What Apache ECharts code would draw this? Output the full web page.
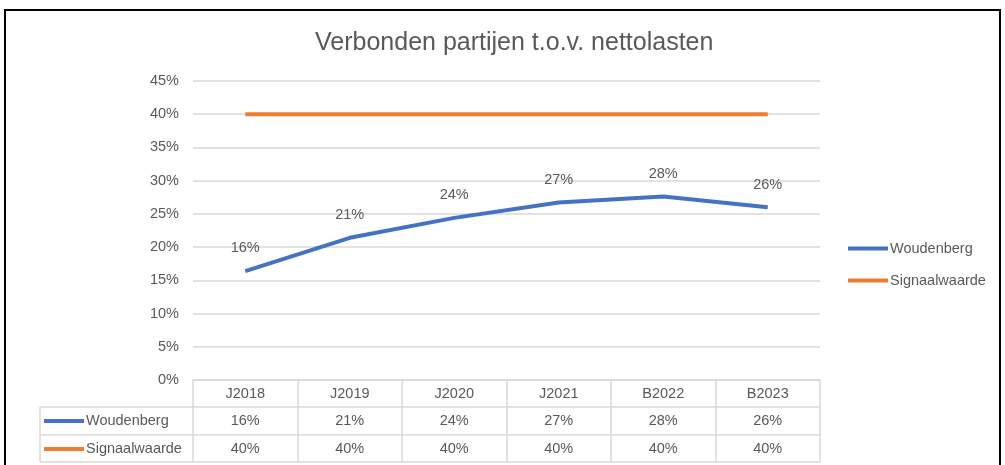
<!DOCTYPE html>
<html>
<head>
<meta charset="utf-8">
<script src="https://cdn.jsdelivr.net/npm/echarts@6/dist/echarts.min.js"></script>
<style>
  html, body { margin: 0; padding: 0; background: #fff; }
  #chart { width: 1005px; height: 465px; }
</style>
</head>
<body>
<div id="chart"></div>
<script>
// data
var categories = ['J2018', 'J2019', 'J2020', 'J2021', 'B2022', 'B2023'];
var woudenberg = [0.164, 0.214, 0.244, 0.267, 0.276, 0.260];
var signaalwaarde = [0.40, 0.40, 0.40, 0.40, 0.40, 0.40];
var woudenbergLabels = ['16%', '21%', '24%', '27%', '28%', '26%'];
var signaalLabels = ['40%', '40%', '40%', '40%', '40%', '40%'];
var seriesNames = ['Woudenberg', 'Signaalwaarde'];

var FONT = 'Liberation Sans';
var FS = 14.5;
var TXT = '#595959';
var GRID = '#d9d9d9';
var BLUE = '#4472c4';
var ORANGE = '#ed7d31';

function pct (v) {
  return Math.round(v * 100) + '%';
}

var chart = echarts.init(document.getElementById('chart'));

function tableAxis (labels, offset) {
  return {
    type: 'category',
    data: categories,
    position: 'bottom',
    offset: offset,
    boundaryGap: true,
    axisLine: { show: true, lineStyle: { color: GRID, width: 1.5 } },
    axisTick: { show: false },
    axisLabel: {
      interval: 0,
      margin: 6,
      color: TXT,
      fontFamily: FONT,
      fontSize: FS,
      formatter: function (v, i) { return labels[i] }
    }
  }
}

var option = {
  backgroundColor: '#fff',
  animation: false,
  title: {
    text: 'Verbonden partijen t.o.v. nettolasten',
    left: 310,
    top: 26,
    textStyle: { fontFamily: FONT, fontSize: 25, fontWeight: 'normal', color: TXT }
  },
  legend: {
    orient: 'vertical',
    left: 843,
    top: 236,
    icon: 'rect',
    itemWidth: 40,
    itemHeight: 4,
    itemGap: 17,
    data: seriesNames,
    textStyle: { fontFamily: FONT, fontSize: FS, color: TXT, padding: [0, 0, 0, -3] }
  },
  grid: { left: 193, right: 185, top: 81, bottom: 85 },
  xAxis: [
    {
      type: 'category',
      data: categories,
      boundaryGap: true,
      axisLine: { lineStyle: { color: GRID, width: 1.5 } },
      axisTick: { show: true, interval: 0, length: 82, lineStyle: { color: GRID, width: 1.5 } },
      axisLabel: { interval: 0, margin: 6, color: TXT, fontFamily: FONT, fontSize: FS }
    },
    tableAxis(woudenbergLabels, 27),
    tableAxis(signaalLabels, 55),
    {
      type: 'category',
      data: categories,
      position: 'bottom',
      offset: 82,
      axisLine: { show: true, lineStyle: { color: GRID, width: 1.5 } },
      axisTick: { show: false },
      axisLabel: { show: false }
    }
  ],
  yAxis: {
    type: 'value',
    min: 0,
    max: 0.45,
    interval: 0.05,
    axisLine: { show: false },
    axisTick: { show: false },
    splitLine: { lineStyle: { color: GRID, width: 1.5 } },
    axisLabel: {
      margin: 14,
      color: TXT,
      fontFamily: FONT,
      fontSize: FS,
      formatter: pct
    }
  },
  series: [
    {
      name: seriesNames[0],
      type: 'line',
      data: woudenberg,
      showSymbol: true,
      symbol: 'circle',
      symbolSize: 0.1,
      lineStyle: { color: BLUE, width: 4 },
      itemStyle: { color: BLUE },
      label: {
        show: true,
        position: 'top',
        distance: 15,
        color: TXT,
        fontFamily: FONT,
        fontSize: FS,
        formatter: function (p) { return pct(p.value) }
      },
      z: 3
    },
    {
      name: seriesNames[1],
      type: 'line',
      data: signaalwaarde,
      showSymbol: false,
      symbol: 'none',
      lineStyle: { color: ORANGE, width: 4 },
      itemStyle: { color: ORANGE },
      z: 2
    }
  ],
  graphic: [
    // chart frame
    { type: 'rect', shape: { x: 5, y: 10, width: 995, height: 470 }, style: { fill: 'none', stroke: '#000', lineWidth: 2 }, silent: true },
    // left column of the data table
    { type: 'line', shape: { x1: 40, y1: 407, x2: 193, y2: 407 }, style: { stroke: GRID, lineWidth: 1.5 } },
    { type: 'line', shape: { x1: 40, y1: 435, x2: 193, y2: 435 }, style: { stroke: GRID, lineWidth: 1.5 } },
    { type: 'line', shape: { x1: 40, y1: 462, x2: 193, y2: 462 }, style: { stroke: GRID, lineWidth: 1.5 } },
    { type: 'line', shape: { x1: 40, y1: 407, x2: 40, y2: 462 }, style: { stroke: GRID, lineWidth: 1.5 } },
    { type: 'line', shape: { x1: 44, y1: 421, x2: 84, y2: 421 }, style: { stroke: BLUE, lineWidth: 4 } },
    { type: 'line', shape: { x1: 44, y1: 449, x2: 84, y2: 449 }, style: { stroke: ORANGE, lineWidth: 4 } },
    { type: 'text', x: 86, y: 421, style: { text: seriesNames[0], fill: TXT, font: FS + 'px "' + FONT + '"', textVerticalAlign: 'middle' } },
    { type: 'text', x: 86, y: 449, style: { text: seriesNames[1], fill: TXT, font: FS + 'px "' + FONT + '"', textVerticalAlign: 'middle' } }
  ]
};

chart.setOption(option);
</script>
</body>
</html>
